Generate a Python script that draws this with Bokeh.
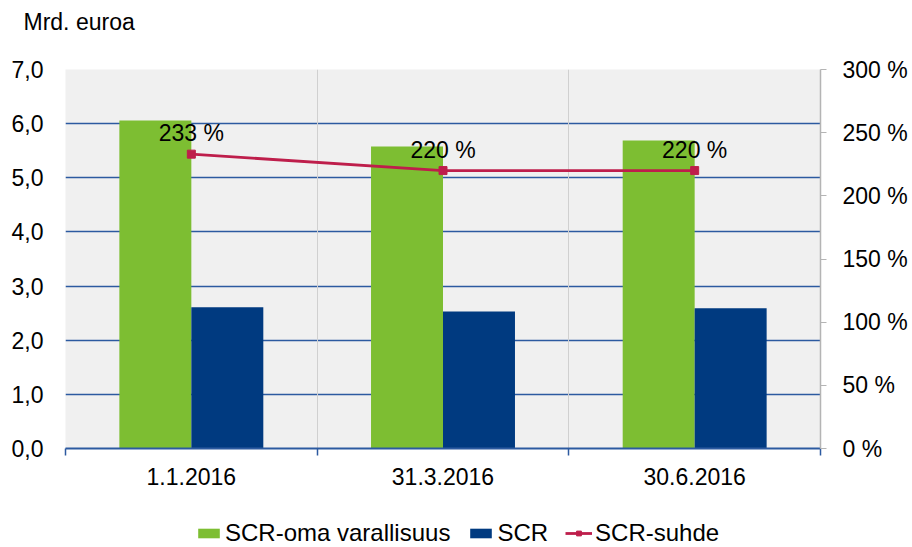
from bokeh.plotting import figure
from bokeh.layouts import column
from bokeh.models import (Range1d, LinearAxis, CategoricalAxis, FixedTicker, Grid, Title,
                          ColumnDataSource, Legend, LegendItem, CustomJSTickFormatter)
from bokeh.transform import dodge
from bokeh.core.properties import value
from bokeh.embed import file_html
from bokeh.resources import INLINE

# ---- data ----
dates = ["1.1.2016", "31.3.2016", "30.6.2016"]
own_funds = [6.06, 5.58, 5.69]      # SCR-oma varallisuus, Mrd. euroa
scr = [2.61, 2.53, 2.59]            # SCR, Mrd. euroa
ratio = [233, 220, 220]             # SCR-suhde, %
ratio_labels = ["233 %", "220 %", "220 %"]
series_names = ["SCR-oma varallisuus", "SCR", "SCR-suhde"]
left_ticks = [0, 1, 2, 3, 4, 5, 6, 7]
right_ticks = [0, 50, 100, 150, 200, 250, 300]
edge_ticks = [0, 1, 2, 3]

FONT = "Liberation Sans"
FS = "23px"
GREEN = "#7DBE32"
BLUE = "#003A80"
RED = "#BE1E4B"
GRIDBLUE = "#2C5AA0"

src = ColumnDataSource(dict(date=dates, own=own_funds, scr=scr, ratio=ratio, lab=ratio_labels))

p = figure(x_range=dates, y_range=Range1d(0, 7), width=912, height=515,
           output_backend="svg", toolbar_location=None,
           x_axis_location=None, y_axis_location=None,
           min_border_left=65, min_border_right=92, min_border_top=69, min_border_bottom=67)
p.x_range.range_padding = 0
p.extra_y_ranges = {"pct": Range1d(0, 300)}
p.background_fill_color = "#F0F0F0"
p.border_fill_color = "white"
p.outline_line_color = None
p.xgrid.visible = False
p.ygrid.visible = False

# unit title (a thin spacer title keeps it up in the top-left corner)
p.add_layout(Title(text=" ", standoff=32, text_font_size="1px"), "above")
p.add_layout(Title(text="Mrd. euroa", align="left", offset=-42, standoff=0,
                   vertical_align="bottom",
                   text_font=FONT, text_font_size=FS, text_font_style="normal",
                   text_color="black"), "above")

# grids
p.add_layout(Grid(dimension=1, ticker=FixedTicker(ticks=left_ticks),
                  grid_line_color=GRIDBLUE, grid_line_width=1.3))
p.add_layout(Grid(dimension=0, ticker=FixedTicker(ticks=edge_ticks),
                  grid_line_color="#D0D0D0", grid_line_width=1))

# axes
left = LinearAxis(ticker=FixedTicker(ticks=left_ticks),
                  formatter=CustomJSTickFormatter(code="return tick.toFixed(1).replace('.', ',');"),
                  axis_line_color=None, major_tick_line_color=None, minor_tick_line_color=None,
                  major_label_standoff=16, major_label_text_font=FONT,
                  major_label_text_font_size=FS, major_label_text_color="black")
p.add_layout(left, "left")

right = LinearAxis(y_range_name="pct", ticker=FixedTicker(ticks=right_ticks),
                   formatter=CustomJSTickFormatter(code="return tick.toFixed(0) + ' %';"),
                   axis_line_color="#B4B4B4", axis_line_width=1.5,
                   major_tick_line_color="#B4B4B4", major_tick_in=0, major_tick_out=6,
                   minor_tick_line_color=None,
                   major_label_standoff=16, major_label_text_font=FONT,
                   major_label_text_font_size=FS, major_label_text_color="black")
p.add_layout(right, "right")

tick_axis = LinearAxis(ticker=FixedTicker(ticks=edge_ticks),
                       formatter=CustomJSTickFormatter(code="return '';"),
                       axis_line_color=GRIDBLUE, axis_line_width=2,
                       major_tick_line_color=GRIDBLUE, major_tick_line_width=1.5,
                       major_tick_in=0, major_tick_out=7, minor_tick_line_color=None,
                       major_label_text_font_size="1px", major_label_standoff=0)
p.add_layout(tick_axis, "below")

cat_axis = CategoricalAxis(axis_line_color=None, major_tick_line_color=None,
                           major_label_standoff=6, major_label_text_font=FONT,
                           major_label_text_font_size=FS, major_label_text_color="black")
p.add_layout(cat_axis, "below")

# bars
p.vbar(x=dodge("date", -0.143, range=p.x_range), top="own", width=0.286,
       source=src, fill_color=GREEN, line_color=None)
p.vbar(x=dodge("date", 0.143, range=p.x_range), top="scr", width=0.286,
       source=src, fill_color=BLUE, line_color=None)

# ratio line
p.line(x="date", y="ratio", source=src, y_range_name="pct",
       line_color=RED, line_width=2.8)
p.scatter(x="date", y="ratio", source=src, y_range_name="pct", marker="square",
          size=8, fill_color=RED, line_color=RED)
p.text(x="date", y="ratio", text="lab", source=src, y_range_name="pct",
       text_align="center", text_baseline="alphabetic", y_offset=-21,
       text_font=value(FONT), text_font_size=FS, text_color="black")

# ---- legend strip below the chart ----
q = figure(width=912, height=32, x_range=Range1d(0, 1), y_range=Range1d(0, 1),
           output_backend="svg", toolbar_location=None,
           x_axis_location=None, y_axis_location=None, min_border=0)
q.outline_line_color = None
q.xgrid.visible = False
q.ygrid.visible = False
q.background_fill_color = "white"
nodata = ColumnDataSource(dict(x=[float("nan")], y=[float("nan")]))
lg = q.vbar(x="x", top="y", width=0.1, source=nodata, fill_color=GREEN, line_color=None)
lb = q.vbar(x="x", top="y", width=0.1, source=nodata, fill_color=BLUE, line_color=None)
ll = q.line(x="x", y="y", source=nodata, line_color=RED, line_width=2.8)
lm = q.scatter(x="x", y="y", source=nodata, marker="square", size=6,
               fill_color=RED, line_color=RED)
legend = Legend(items=[LegendItem(label=series_names[0], renderers=[lg]),
                       LegendItem(label=series_names[1], renderers=[lb]),
                       LegendItem(label=series_names[2], renderers=[ll, lm])],
                orientation="horizontal", location=(130, 0),
                glyph_width=27, glyph_height=12, label_standoff=3, spacing=17,
                padding=0, margin=0, border_line_color=None, background_fill_alpha=0,
                label_text_font=FONT, label_text_font_size="24px", label_text_color="black",
                label_height=20)
q.add_layout(legend)

open("out.html", "w").write(file_html(column(p, q, spacing=0), INLINE))
